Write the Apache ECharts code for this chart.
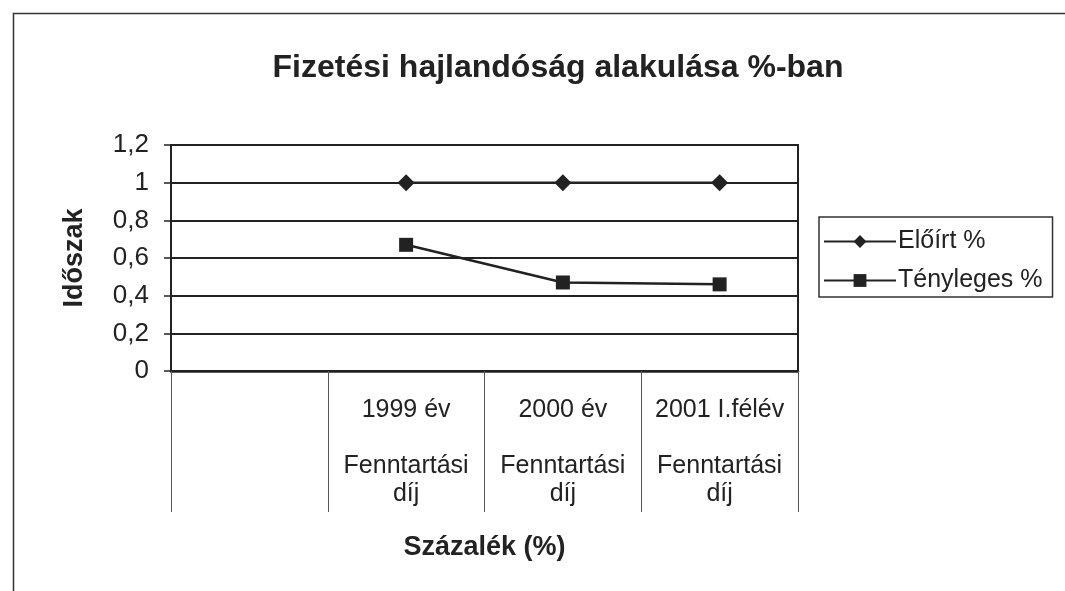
<!DOCTYPE html>
<html>
<head>
<meta charset="utf-8">
<title>Fizetési hajlandóság</title>
<script src="https://cdn.jsdelivr.net/npm/echarts@6/dist/echarts.min.js"></script>
<style>
  html, body { margin: 0; padding: 0; background: #fff; }
  #chart { width: 1065px; height: 591px; }
</style>
</head>
<body>
<div id="chart"></div>
<script>
// adatok
var categories = ["", "1999 év\n\nFenntartási\ndíj", "2000 év\n\nFenntartási\ndíj", "2001 I.félév\n\nFenntartási\ndíj"];
var eloirt = [null, 1, 1, 1];
var tenyleges = [null, 0.67, 0.47, 0.46];
var yTicks = { min: 0, max: 1.2, step: 0.2 };

var font = "'Liberation Sans', Arial, sans-serif";
var ink = "#222";

var chart = echarts.init(document.getElementById("chart"));
chart.setOption({
  backgroundColor: "#fff",
  animation: false,
  textStyle: { fontFamily: font, color: ink },
  title: {
    text: "Fizetési hajlandóság alakulása %-ban",
    left: 553,
    textAlign: "center",
    top: 47,
    textStyle: { fontSize: 32, fontWeight: "bold", color: ink, fontFamily: font }
  },
  graphic: [
    {
      type: "rect",
      left: 11,
      top: 11,
      shape: { width: 1200, height: 700 },
      style: { fill: "none", stroke: "#333", lineWidth: 1.5 },
      silent: true
    }
  ],
  legend: {
    orient: "vertical",
    left: 819,
    top: 217,
    padding: [12, 10, 4, 4],
    itemGap: 14,
    itemWidth: 72,
    itemHeight: 16,
    borderColor: "#333",
    borderWidth: 1.5,
    textStyle: { fontSize: 25, color: ink, fontFamily: font, padding: [0, 0, 0, -3] },
    data: ["Előírt %", "Tényleges %"]
  },
  grid: {
    left: 171,
    right: 267,
    top: 145,
    bottom: 220,
    show: true,
    borderColor: ink,
    borderWidth: 2
  },
  xAxis: {
    type: "category",
    data: categories,
    boundaryGap: true,
    name: "Százalék (%)",
    nameLocation: "middle",
    nameGap: 163,
    nameTextStyle: { fontSize: 27, fontWeight: "bold", color: ink, fontFamily: font },
    axisLine: { show: true, lineStyle: { color: ink, width: 2.5 } },
    axisTick: { show: true, length: 141, lineStyle: { color: "#555", width: 1 } },
    axisLabel: {
      interval: 0,
      margin: 25,
      fontSize: 25,
      lineHeight: 28,
      color: ink,
      fontFamily: font,
      align: "center"
    },
    splitLine: { show: false }
  },
  yAxis: {
    type: "value",
    min: yTicks.min,
    max: yTicks.max,
    interval: yTicks.step,
    name: "Időszak",
    nameLocation: "middle",
    nameGap: 83,
    nameRotate: 90,
    nameTextStyle: { fontSize: 27, fontWeight: "bold", color: ink, fontFamily: font },
    axisLine: { show: true, lineStyle: { color: ink, width: 2 } },
    axisTick: { show: true, length: 7, lineStyle: { color: ink, width: 1.5 } },
    axisLabel: {
      margin: 22,
      fontSize: 26,
      color: ink,
      fontFamily: font,
      formatter: function (v) {
        return String(+v.toFixed(1)).replace(".", ",");
      }
    },
    splitLine: { show: true, lineStyle: { color: ink, width: 2 } }
  },
  series: [
    {
      name: "Előírt %",
      type: "line",
      data: eloirt,
      symbol: "diamond",
      symbolSize: 17,
      lineStyle: { color: ink, width: 2.5 },
      itemStyle: { color: ink }
    },
    {
      name: "Tényleges %",
      type: "line",
      data: tenyleges,
      symbol: "rect",
      symbolSize: 14,
      lineStyle: { color: ink, width: 2.5 },
      itemStyle: { color: ink }
    }
  ]
});
</script>
</body>
</html>
